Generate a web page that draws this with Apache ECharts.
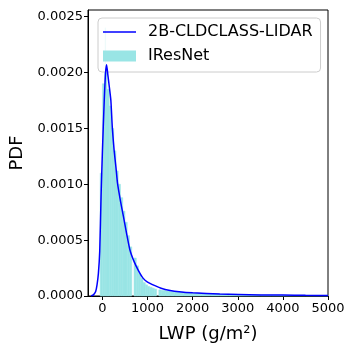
<!DOCTYPE html>
<html>
<head>
<meta charset="utf-8">
<script src="https://cdn.jsdelivr.net/npm/echarts@6/dist/echarts.min.js"></script>
<style>
  html, body { margin: 0; padding: 0; background: #fff; }
  #main { width: 352px; height: 352px; }
</style>
</head>
<body>
<div id="main"></div>
<script>
// 直方图 bin 左边界 / 右边界 (g/m2) 和密度
var binStart = [-50, 0, 50, 60, 70, 100, 150, 200, 250, 300, 350, 400, 450, 500, 550, 600, 650, 700, 750, 800, 850, 900, 950, 1000, 1050, 1100, 1150, 1200, 1250, 1300, 1400, 1500, 1600, 1800, 2000, 2200, 2400, 2600, 2800, 3000, 3250, 3500, 3750, 4000, 4500];
var binEnd = [0, 50, 60, 70, 100, 150, 200, 250, 300, 350, 400, 450, 500, 550, 600, 650, 700, 750, 800, 850, 900, 950, 1000, 1050, 1100, 1150, 1200, 1250, 1300, 1400, 1500, 1600, 1800, 2000, 2200, 2400, 2600, 2800, 3000, 3250, 3500, 3750, 4000, 4500, 5000];
var binPdf = [0.0011, 0.0019, 0.0020, 0.0024, 0.0020, 0.00185, 0.0017, 0.0015, 0.0013, 0.00112, 0.0010, 0.00088, 0.00076, 0.00066, 0.00054, 0.00044, 0, 0.00034, 0.00027, 0.0002, 0.00016, 0.00012, 0.0001, 0.000085, 0.000078, 0.00007, 0.000062, 0, 0.000055, 0.00005, 0.000045, 0.00004, 0.000036, 0.00003, 0.000026, 0.000022, 0.00002, 0.000018, 0.000016, 0.000014, 0.000012, 0.00001, 0.000009, 0.000007, 0.000006];

// 2B-CLDCLASS-LIDAR 的 PDF 曲线
var lwpGrid = [-250, -200, -150, -120, -90, -60, -30, 0, 40, 70, 92, 120, 150, 187, 220, 260, 300, 334, 400, 466, 540, 611, 700, 795, 900, 1000, 1150, 1300, 1500, 1700, 2000, 2600, 3000, 3500, 4000, 4500, 5000];
var pdfLine = [0, 0.00001, 0.00004, 0.0001, 0.0002, 0.0004, 0.0009, 0.0013, 0.00175, 0.002, 0.00207, 0.00198, 0.00188, 0.00175, 0.0015, 0.0013, 0.00115, 0.00101, 0.00085, 0.00071, 0.00055, 0.00041, 0.00031, 0.00023, 0.00016, 0.000125, 0.000095, 0.00007, 0.00005, 0.000038, 0.000028, 0.000018, 0.000014, 0.00001, 0.000008, 0.000006, 0.000005];

var xTicks = [0, 1000, 2000, 3000, 4000, 5000];
var yTicks = [0, 0.0005, 0.001, 0.0015, 0.002, 0.0025];

var histColor = '#99e5e5';
var lineColor = '#0000ff';

var histData = binStart.map(function (s, i) { return [s, binEnd[i], binPdf[i]]; });
var lineData = lwpGrid.map(function (x, i) { return [x, pdfLine[i]]; });

var chart = echarts.init(document.getElementById('main'), null, { renderer: 'canvas' });

var font = 'DejaVu Sans';

var option = {
  animation: false,
  textStyle: { fontFamily: font },
  grid: {
    left: 85,
    right: 24,
    top: 10,
    bottom: 56,
    show: true,
    borderColor: '#000',
    borderWidth: 1
  },
  legend: {
    orient: 'vertical',
    left: 98,
    top: 18,
    itemWidth: 33,
    itemHeight: 11,
    itemGap: 8,
    padding: [6, 8, 8, 5],
    backgroundColor: 'rgba(255,255,255,0.8)',
    borderColor: '#cccccc',
    borderWidth: 1,
    borderRadius: 4,
    textStyle: { fontFamily: font, fontSize: 16, color: '#000', padding: [0, 0, 0, 7] },
    data: [
      { name: '2B-CLDCLASS-LIDAR', icon: 'path://M0,0M0,4.7L33,4.7L33,6.3L0,6.3ZM33,11' },
      { name: 'IResNet', icon: 'rect' }
    ]
  },
  xAxis: {
    type: 'value',
    min: -320,
    max: 5000,
    name: 'LWP (g/m²)',
    nameLocation: 'middle',
    nameGap: 29,
    nameTextStyle: { fontFamily: font, fontSize: 18, color: '#000' },
    splitLine: { show: false },
    axisLine: { show: true, onZero: false, lineStyle: { color: '#000', width: 1 } },
    axisTick: { show: true, length: 4, customValues: xTicks, lineStyle: { color: '#000' } },
    axisLabel: {
      customValues: xTicks,
      fontSize: 13,
      color: '#000',
      margin: 6,
      fontFamily: font,
      formatter: function (v) { return String(v); }
    }
  },
  yAxis: {
    type: 'value',
    min: 0,
    max: 0.00256,
    name: 'PDF',
    nameLocation: 'middle',
    nameGap: 62,
    nameTextStyle: { fontFamily: font, fontSize: 18, color: '#000' },
    splitLine: { show: false },
    axisLine: { show: true, onZero: false, lineStyle: { color: '#000', width: 1 } },
    axisTick: { show: true, length: 4, customValues: yTicks, lineStyle: { color: '#000' } },
    axisLabel: {
      customValues: yTicks,
      fontSize: 13,
      color: '#000',
      margin: 5,
      fontFamily: font,
      formatter: function (v) { return v.toFixed(4); }
    }
  },
  series: [
    {
      name: 'IResNet',
      type: 'custom',
      itemStyle: { color: histColor },
      encode: { x: [0, 1], y: 2 },
      renderItem: function (params, api) {
        var p0 = api.coord([api.value(0), api.value(2)]);
        var p1 = api.coord([api.value(1), 0]);
        var h = p1[1] - p0[1];
        return {
          type: 'rect',
          shape: { x: p0[0], y: p0[1], width: p1[0] - p0[0], height: h },
          style: { fill: histColor, stroke: h > 0 ? histColor : null, lineWidth: 0.5 }
        };
      },
      data: histData
    },
    {
      name: '2B-CLDCLASS-LIDAR',
      type: 'line',
      symbol: 'none',
      smooth: 0.2,
      z: 5,
      lineStyle: { color: lineColor, width: 1.5 },
      itemStyle: { color: lineColor },
      data: lineData
    }
  ]
};

chart.setOption(option);
</script>
</body>
</html>
